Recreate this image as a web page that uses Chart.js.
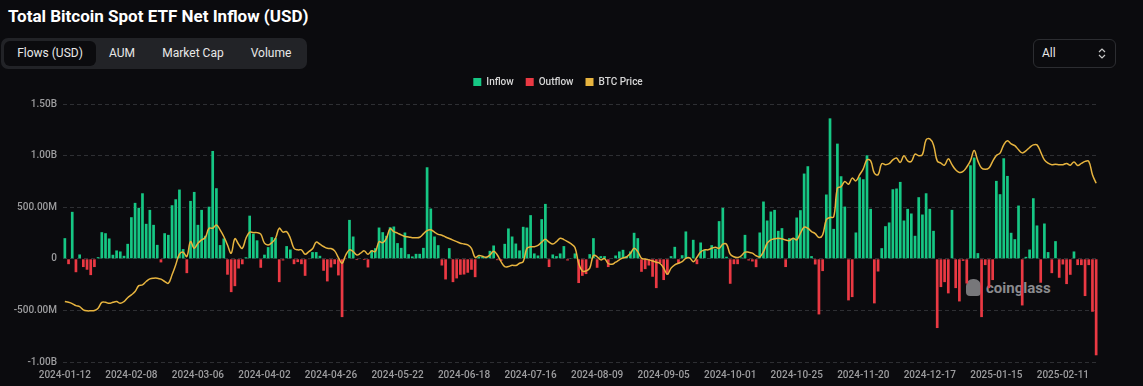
<!DOCTYPE html>
<html>
<head>
<meta charset="utf-8">
<script src="https://cdn.jsdelivr.net/npm/chart.js@4.4.1/dist/chart.umd.min.js"></script>
<style>
  html, body { margin: 0; padding: 0; background: #0b0b0e; width: 1143px; height: 386px; overflow: hidden;
    font-family: Roboto, "Noto Sans", sans-serif; }
  #wrap { position: relative; width: 1143px; height: 386px; }
  #title { position: absolute; left: 8px; top: 6px; color: #fff; font-size: 17px; font-weight: 700; }
  #tabs { position: absolute; left: 1px; top: 38px; width: 306px; height: 31px; background: #222327;
    border-radius: 7px; }
  .tab { position: absolute; top: 3px; height: 25px; line-height: 25px; color: #e8e8e8; font-size: 12px;
    text-align: center; border-radius: 6px; }
  .tab.on { background: #0b0b0e; }
  #sel { position: absolute; left: 1033px; top: 39px; width: 83px; height: 29px; box-sizing: border-box;
    border: 1px solid #2c2d31; border-radius: 6px; color: #e8e8e8; font-size: 12px; line-height: 27px; padding-left: 8px; }
  #sel svg { position: absolute; right: 9px; top: 8px; }
  #mark { position: absolute; left: 966px; top: 279px; color: #8b8b8e; font-size: 15px; font-weight: 700; }
  #mark i { display: inline-block; width: 15px; height: 17px; background: #77777a; border-radius: 7px 7px 4px 4px;
    vertical-align: -3px; margin-right: 5px; }
  #c { position: absolute; left: 0; top: 0; }
</style>
</head>
<body>
<div id="wrap">
  <div id="title">Total Bitcoin Spot ETF Net Inflow (USD)</div>
  <div id="tabs">
    <div class="tab on" style="left:3px;width:92px">Flows (USD)</div>
    <div class="tab" style="left:96px;width:50px">AUM</div>
    <div class="tab" style="left:147px;width:90px">Market Cap</div>
    <div class="tab" style="left:238px;width:64px">Volume</div>
  </div>
  <div id="sel">All<svg width="8" height="11" viewBox="0 0 8 11"><path d="M1 4 L4 1 L7 4 M1 7 L4 10 L7 7" fill="none" stroke="#c8c8c8" stroke-width="1.2"/></svg></div>
  <div id="mark"><i></i>coinglass</div>
  <canvas id="c" width="1143" height="386"></canvas>
</div>
<script>
// trading days shown on the x axis
const firstDay = "2024-01-12";
const lastDay = "2025-02-25";
const marketHolidays = ["2024-01-15", "2024-02-19", "2024-03-29", "2024-05-27", "2024-06-19", "2024-07-04",
  "2024-09-02", "2024-11-28", "2024-12-25", "2025-01-01", "2025-01-09", "2025-01-20", "2025-02-17"];

const tickDates = ["2024-01-12", "2024-02-08", "2024-03-06", "2024-04-02", "2024-04-26", "2024-05-22",
  "2024-06-18", "2024-07-16", "2024-08-09", "2024-09-05", "2024-10-01", "2024-10-25", "2024-11-20",
  "2024-12-17", "2025-01-15", "2025-02-11"];

// daily net flow, millions USD
const netFlowM = [
  200, -52, 455, -130, 42, -80, -106, -158, -80, 16, 258, 248, 197, 39, 81, 71, 29, 145, 403, 542,
  494, 635, 339, 474, 329, 135, -35, 248, 232, 519, 577, 671, 94, -139, 561, 648, 329, 474, 223, 505,
  1045, 684, 133, 197, -154, -323, -265, -94, -53, 15, 418, 243, 179, -87, 40, 113, 210, 200, -226, -16,
  123, 90, -52, -32, -52, -165, -6, 65, 65, 29, -116, -219, -84, -52, -161, -565, -4, 377, 216, -12,
  -5, -12, -84, 84, 103, 303, 258, 223, 306, 313, 152, 106, 255, 45, 23, 48, 48, 106, 887, 487,
  216, 132, -65, -200, 103, -226, -190, -155, -152, -135, -106, -178, 23, 23, 19, 77, 129, -13, -20, 145,
  294, 216, 148, 81, 310, 303, 423, 52, 32, 384, 532, -80, 42, 26, 52, 123, -16, 2, 52, -235,
  -165, -148, 45, 200, -87, 26, 26, -80, 6, 32, 71, 87, 26, 71, 252, 200, -126, -100, -65, -174,
  -284, -42, -206, -155, 26, 116, -45, 35, 265, 12, 184, -52, 158, 87, 6, 132, 97, 365, 494, 20,
  -242, -52, -52, 13, 232, -16, -26, -81, 255, 555, 371, 458, 474, 271, 297, -80, 200, 200, 400, 471,
  826, 897, 26, -55, -539, -119, 623, 1361, 290, 1116, 800, 506, -403, -371, 255, 790, 771, 1003, 484, -432,
  -123, 103, 316, 352, 674, 681, 745, 371, 484, 439, 223, 597, 429, 635, 484, 271, -671, -274, -226, -335,
  474, -284, -413, -20, -239, 906, 981, 55, -565, -61, -284, -206, 755, 626, 974, 803, 252, 190, 516, -452,
  19, 90, 587, 323, -232, 342, 65, -139, 171, -184, -55, -245, -155, 71, -61, -61, -361, -61, -513, -935
];

// BTC price, thousands USD
const btcPriceK = [
  42.8, 42.5, 42.0, 41.2, 40.8, 39.6, 39.2, 39.2, 39.3, 40.2, 42.5, 42.5, 42.1, 42.5, 42.8, 42.1, 42.8, 44.3, 45.4, 46.7,
  49.0, 49.3, 50.6, 51.6, 51.9, 51.9, 51.5, 50.6, 49.9, 53.2, 57.1, 61.2, 62.0, 60.3, 66.1, 63.5, 65.5, 66.8, 67.7, 71.3,
  71.3, 72.6, 70.7, 68.1, 64.8, 61.6, 67.2, 65.1, 63.5, 67.4, 69.8, 69.6, 69.6, 69.0, 65.5, 64.8, 65.7, 67.4, 71.3, 69.8,
  70.0, 67.4, 63.5, 62.9, 62.9, 61.2, 62.2, 63.3, 65.9, 65.1, 64.2, 63.5, 63.4, 62.5, 59.9, 57.7, 60.9, 62.9, 62.2, 60.9,
  61.6, 62.5, 61.2, 62.5, 62.2, 66.1, 65.7, 67.4, 71.1, 70.0, 69.4, 68.7, 68.1, 67.9, 67.6, 67.6, 67.8, 69.1, 70.4, 70.7,
  69.8, 68.9, 68.6, 67.9, 67.3, 66.7, 66.1, 65.5, 65.2, 64.8, 63.5, 59.9, 60.7, 60.4, 60.0, 60.9, 62.4, 60.9, 58.3, 56.4,
  56.4, 56.9, 56.8, 57.7, 58.3, 63.5, 64.1, 64.1, 64.6, 65.9, 67.0, 65.9, 65.2, 66.1, 67.4, 66.9, 66.1, 65.2, 63.8, 57.7,
  54.7, 54.7, 55.8, 60.7, 60.2, 59.0, 59.5, 57.6, 57.3, 58.1, 59.0, 59.8, 60.2, 61.5, 63.5, 62.2, 59.6, 59.3, 59.0, 58.6,
  58.1, 57.6, 55.8, 53.4, 55.8, 57.1, 57.7, 58.3, 59.6, 59.8, 58.3, 60.0, 62.1, 62.9, 62.9, 63.5, 63.9, 63.5, 65.1, 65.1,
  61.2, 60.2, 59.9, 60.6, 62.0, 62.0, 61.6, 60.6, 60.2, 62.2, 65.5, 66.8, 67.2, 67.4, 67.2, 66.7, 66.5, 67.4, 66.8, 69.4,
  71.7, 71.3, 70.0, 69.2, 67.7, 68.7, 74.6, 75.5, 75.7, 86.9, 87.5, 89.5, 88.4, 90.8, 89.7, 92.1, 94.4, 97.9, 97.5, 92.7,
  92.1, 96.4, 96.0, 96.4, 97.9, 98.6, 96.9, 99.5, 97.5, 97.3, 100.1, 99.5, 99.9, 105.7, 106.0, 103.7, 97.5, 96.6, 95.8, 98.3,
  96.0, 94.0, 93.0, 93.4, 95.1, 97.6, 101.5, 97.5, 94.7, 94.2, 94.7, 97.3, 99.6, 100.5, 103.7, 105.3, 104.1, 103.4, 101.8, 100.6,
  101.4, 102.7, 103.7, 103.7, 100.9, 97.9, 96.6, 96.0, 96.2, 96.0, 96.0, 96.5, 95.8, 97.1, 95.7, 96.5, 97.3, 97.3, 92.1, 88.8
];

const tradeDates = [];
for (let d = new Date(firstDay + "T00:00:00Z"); d <= new Date(lastDay + "T00:00:00Z"); d.setUTCDate(d.getUTCDate() + 1)) {
  const s = d.toISOString().slice(0, 10);
  const wd = d.getUTCDay();
  if (wd !== 0 && wd !== 6 && !marketHolidays.includes(s)) tradeDates.push(s);
}

const green = "#16c784", red = "#ea3943", gold = "#e7b43f";

// legend: taller box, centred a little right of the plot centre
const fixLegend = {
  id: "fixLegend",
  beforeInit(chart) {
    const fit = chart.legend.fit;
    chart.legend.fit = function () {
      fit.call(this);
      this.height = 39;
    };
  },
  afterLayout(chart) {
    chart.legend.left += 9;
    chart.legend.right += 9;
  }
};

new Chart(document.getElementById("c"), {
  type: "bar",
  data: {
    labels: tradeDates,
    datasets: [
      {
        label: "Inflow",
        data: netFlowM.map((v) => (v >= 0 ? v : null)),
        backgroundColor: green,
        grouped: false,
        barPercentage: 0.73,
        categoryPercentage: 1,
        order: 2,
      },
      {
        label: "Outflow",
        data: netFlowM.map((v) => (v < 0 ? v : null)),
        backgroundColor: red,
        grouped: false,
        barPercentage: 0.73,
        categoryPercentage: 1,
        order: 2,
      },
      {
        type: "line",
        label: "BTC Price",
        data: btcPriceK,
        yAxisID: "y1",
        borderColor: gold,
        backgroundColor: gold,
        borderWidth: 1.5,
        pointRadius: 0,
        tension: 0.4,
        order: 1,
      },
    ],
  },
  options: {
    responsive: false,
    animation: false,
    layout: { padding: { top: 65, right: 45, left: 0, bottom: 0 } },
    plugins: {
      legend: {
        labels: {
          color: "#d6d6d6",
          font: { size: 10, family: "Roboto", weight: "500" },
          boxWidth: 8,
          boxHeight: 8,
          padding: 12,
          sort: (a, b) => a.datasetIndex - b.datasetIndex,
          generateLabels: (chart) =>
            Chart.defaults.plugins.legend.labels.generateLabels(chart).map((l) => ({ ...l, lineWidth: 0 })),
        },
      },
      tooltip: { enabled: false },
    },
    scales: {
      x: {
        grid: { display: false, drawTicks: false },
        border: { display: false },
        ticks: {
          autoSkip: false,
          maxRotation: 0,
          padding: 7,
          color: "#9d9d9f",
          font: { size: 10, family: "Roboto", weight: "500" },
          callback: (v, i) => (tickDates.includes(tradeDates[i]) ? tradeDates[i] : null),
        },
        afterFit: (s) => { s.height = 24; },
      },
      y: {
        min: -1000,
        max: 1500,
        ticks: {
          stepSize: 500,
          padding: 6,
          color: "#9d9d9f",
          font: { size: 10, family: "Roboto", weight: "500" },
          callback: (v) => (v === 0 ? "0" : Math.abs(v) >= 1000 ? (v / 1000).toFixed(2) + "B" : v.toFixed(2) + "M"),
        },
        grid: { color: "#2e2f33", drawTicks: false },
        border: { display: false, dash: [4, 3] },
        afterFit: (s) => { s.width = 63; },
      },
      y1: { display: false, min: 19.3, max: 119.6 },
    },
  },
  plugins: [fixLegend],
});
</script>
</body>
</html>
